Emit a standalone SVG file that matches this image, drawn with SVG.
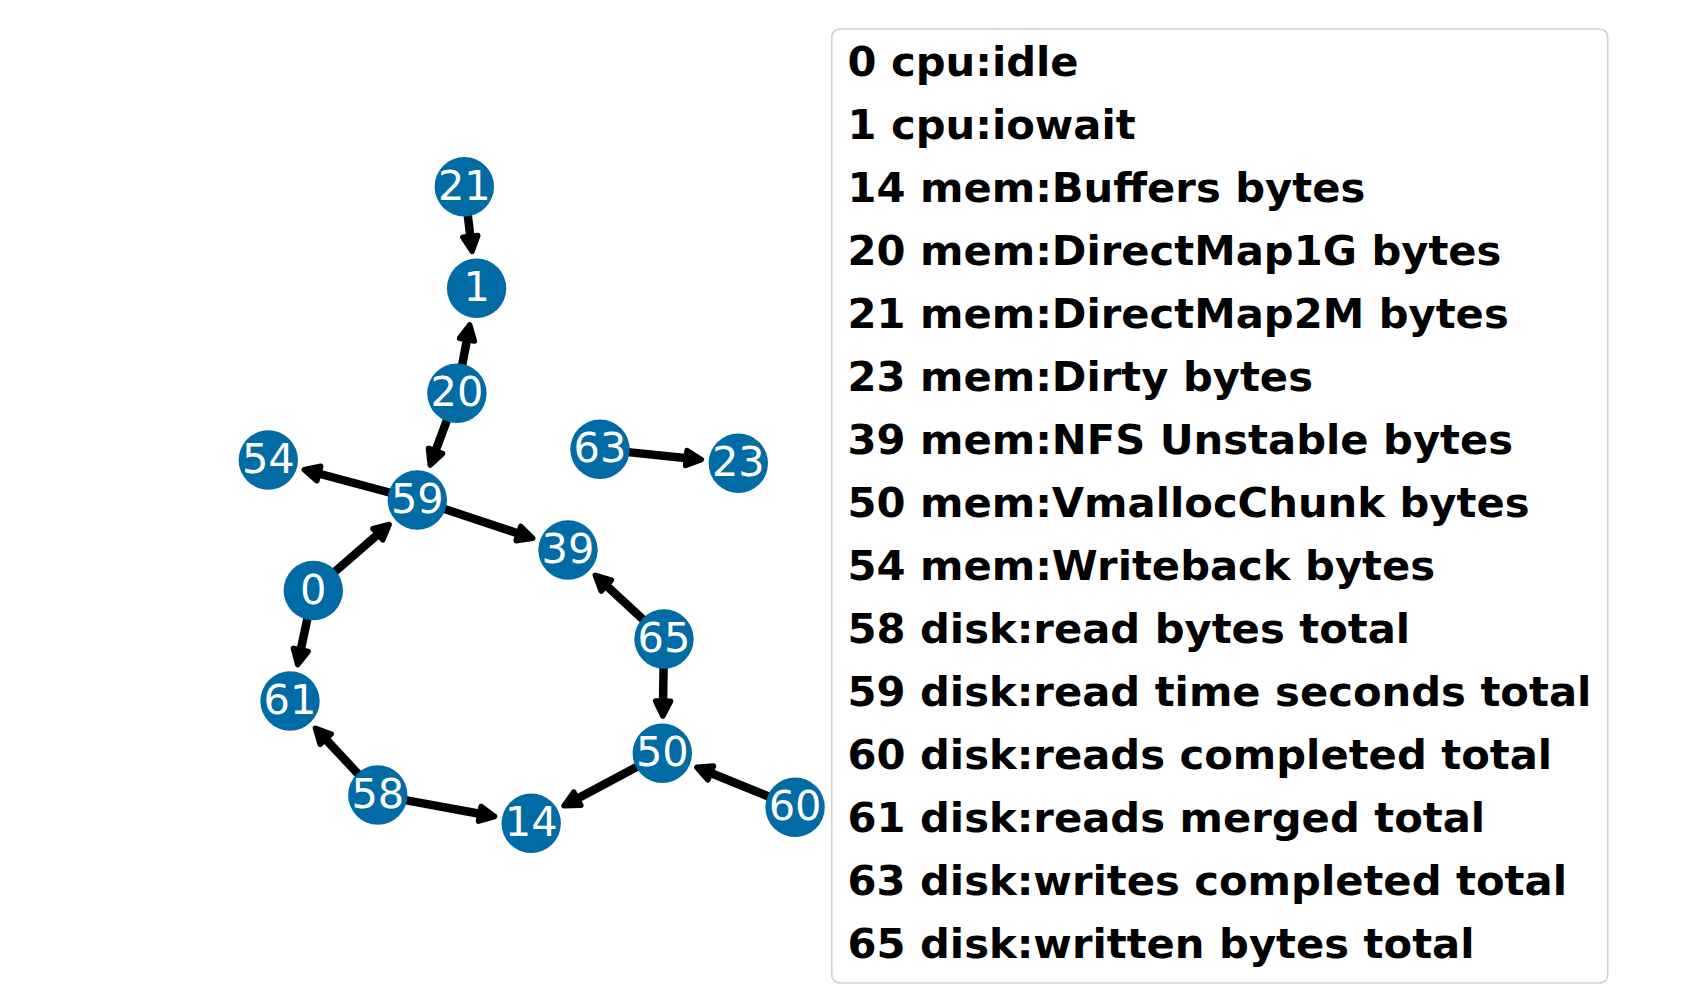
<svg xmlns="http://www.w3.org/2000/svg" width="1700" height="1000" viewBox="0 0 1700 1000">
<style>
.node circle{fill:#006BA4}
.node text{fill:#ffffff;font-family:"DejaVu Sans","Liberation Sans",sans-serif;font-size:41.5px;text-anchor:middle}
.edge{stroke:#000;stroke-width:8.5;fill:none;marker-end:url(#ah)}
.leg text{fill:#000;font-family:"DejaVu Sans","Liberation Sans",sans-serif;font-size:41.7px;font-weight:bold}
</style>
<defs>
<marker id="ah" markerUnits="userSpaceOnUse" viewBox="-10 -15 40 30" markerWidth="40" markerHeight="30" refX="1.25" refY="0" orient="auto" overflow="visible">
<path d="M0,-7.5 L15,0 L0,7.5 Z" fill="#000" stroke="#000" stroke-width="5.5" stroke-linejoin="round"/>
</marker>
</defs>
<rect width="1700" height="1000" fill="#fff"/>
<g id="connectors">
<line class="edge" x1="467.7" y1="214.5" x2="470.47" y2="237.67"/>
<line class="edge" x1="462.06" y1="365.78" x2="467.2" y2="338.43"/>
<line class="edge" x1="447.16" y1="419.55" x2="435.04" y2="452.19"/>
<line class="edge" x1="390.26" y1="492.74" x2="317.56" y2="473.23"/>
<line class="edge" x1="443.87" y1="508.82" x2="519.6" y2="533.94"/>
<line class="edge" x1="334.42" y1="572.12" x2="378.82" y2="533.48"/>
<line class="edge" x1="307.52" y1="617.9" x2="300.52" y2="651.09"/>
<line class="edge" x1="627.86" y1="452.12" x2="687.56" y2="458.17"/>
<line class="edge" x1="643.47" y1="619.96" x2="605.4" y2="584.68"/>
<line class="edge" x1="663.58" y1="667" x2="663.06" y2="702.3"/>
<line class="edge" x1="358.69" y1="774.54" x2="324.81" y2="738.27"/>
<line class="edge" x1="405.34" y1="800.08" x2="481.04" y2="814.05"/>
<line class="edge" x1="637.6" y1="766.49" x2="576.18" y2="799.28"/>
<line class="edge" x1="769.16" y1="796.75" x2="709.55" y2="772.52"/>
</g>
<g id="node-0" class="node"><circle cx="313.3" cy="590.5" r="29.7"/><text x="313.3" y="603.5">0</text></g>
<g id="node-1" class="node"><circle cx="476.6" cy="288.3" r="29.7"/><text x="476.6" y="301.3">1</text></g>
<g id="node-14" class="node"><circle cx="531.2" cy="823.3" r="29.7"/><text x="531.2" y="836.3">14</text></g>
<g id="node-20" class="node"><circle cx="456.9" cy="393.3" r="29.7"/><text x="456.9" y="406.3">20</text></g>
<g id="node-21" class="node"><circle cx="464.3" cy="186.7" r="29.7"/><text x="464.3" y="199.7">21</text></g>
<g id="node-23" class="node"><circle cx="738.3" cy="463.3" r="29.7"/><text x="738.3" y="476.3">23</text></g>
<g id="node-39" class="node"><circle cx="568" cy="550" r="29.7"/><text x="568" y="563">39</text></g>
<g id="node-50" class="node"><circle cx="662.3" cy="753.3" r="29.7"/><text x="662.3" y="766.3">50</text></g>
<g id="node-54" class="node"><circle cx="268.3" cy="460" r="29.7"/><text x="268.3" y="473">54</text></g>
<g id="node-58" class="node"><circle cx="377.8" cy="795" r="29.7"/><text x="377.8" y="808">58</text></g>
<g id="node-59" class="node"><circle cx="417.3" cy="500" r="29.7"/><text x="417.3" y="513">59</text></g>
<g id="node-60" class="node"><circle cx="795.1" cy="807.3" r="29.7"/><text x="795.1" y="820.3">60</text></g>
<g id="node-61" class="node"><circle cx="290" cy="701" r="29.7"/><text x="290" y="714">61</text></g>
<g id="node-63" class="node"><circle cx="600" cy="449.3" r="29.7"/><text x="600" y="462.3">63</text></g>
<g id="node-65" class="node"><circle cx="664" cy="639" r="29.7"/><text x="664" y="652">65</text></g>
<g id="legend" class="leg">
<rect x="831.7" y="29" width="776" height="954" rx="8" fill="#fff" stroke="#d0d0d0" stroke-width="1.6"/>
<text x="847.5" y="75.5">0 cpu:idle</text>
<text x="847.5" y="138.5">1 cpu:iowait</text>
<text x="847.5" y="201.5">14 mem:Buffers bytes</text>
<text x="847.5" y="264.5">20 mem:DirectMap1G bytes</text>
<text x="847.5" y="327.5">21 mem:DirectMap2M bytes</text>
<text x="847.5" y="390.5">23 mem:Dirty bytes</text>
<text x="847.5" y="453.5">39 mem:NFS Unstable bytes</text>
<text x="847.5" y="516.5">50 mem:VmallocChunk bytes</text>
<text x="847.5" y="579.5">54 mem:Writeback bytes</text>
<text x="847.5" y="642.5">58 disk:read bytes total</text>
<text x="847.5" y="705.5">59 disk:read time seconds total</text>
<text x="847.5" y="768.5">60 disk:reads completed total</text>
<text x="847.5" y="831.5">61 disk:reads merged total</text>
<text x="847.5" y="894.5">63 disk:writes completed total</text>
<text x="847.5" y="957.5">65 disk:written bytes total</text>
</g>
</svg>
